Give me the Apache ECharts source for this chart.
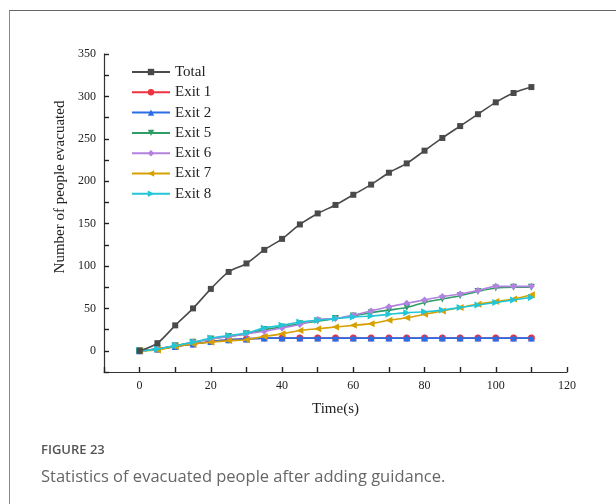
<!DOCTYPE html>
<html>
<head>
<meta charset="utf-8">
<script src="https://cdn.jsdelivr.net/npm/echarts@6/dist/echarts.min.js"></script>
<style>
  html, body { margin: 0; padding: 0; background: #fff; }
  #wrap { position: relative; width: 616px; height: 504px; }
  #frame { position: absolute; left: 9px; top: 10px; right: 0; bottom: 0;
           border-top: 1.5px solid #666; border-left: 1.5px solid #888; }
  #chart { position: absolute; left: 0; top: 0; width: 616px; height: 504px; }
</style>
</head>
<body>
<div id="wrap">
  <div id="frame"></div>
  <div id="chart"></div>
</div>
<script>
// time (s)
const times = [0, 5, 10, 15, 20, 25, 30, 35, 40, 45, 50, 55, 60, 65, 70, 75, 80, 85, 90, 95, 100, 105, 110]

// evacuated people per series
const total = [0, 9, 30, 50, 73, 93, 103, 119, 132, 149, 162, 172, 184, 196, 210, 221, 236, 251, 265, 279, 293, 304, 311]
const exit1 = [0, 2, 5, 8, 11, 13, 14, 15, 15, 15, 15, 15, 15, 15, 15, 15, 15, 15, 15, 15, 15, 15, 15]
const exit2 = [0, 2, 5, 8, 11, 13, 14, 15, 15, 15, 15, 15, 15, 15, 15, 15, 15, 15, 15, 15, 15, 15, 15]
const exit5 = [0, 2, 6, 10, 14, 17, 20, 25, 28, 32, 35, 38, 41, 45, 48, 51, 57, 61, 65, 70, 74, 75, 75]
const exit6 = [0, 2, 6, 10, 14, 17, 20, 23, 27, 31, 37, 38, 42, 47, 52, 56, 60, 64, 67, 71, 76, 76, 76]
const exit7 = [0, 1, 5, 8, 10, 12, 13, 17, 20, 24, 26, 28, 30, 32, 36, 39, 43, 47, 51, 55, 58, 61, 66]
const exit8 = [0, 2, 6, 10, 15, 18, 21, 27, 30, 34, 36, 38, 40, 41, 43, 45, 46, 48, 51, 54, 57, 60, 63]

// axis ranges and label steps
const xRange = [-10, 120]
const xTickStep = 10
const xLabelStep = 20
const yRange = [-25, 350]
const yTickStep = 25
const yLabelStep = 50

const pairs = arr => times.map((t, i) => [t, arr[i]])
const serif = '"Liberation Serif", "Times New Roman", serif'

const chart = echarts.init(document.getElementById('chart'))

const mkSeries = (name, data, color, symbol, rotate, z) => ({
  name,
  type: 'line',
  data: pairs(data),
  smooth: 0.3,
  symbol,
  symbolSize: symbol === 'rect' ? 6 : 7,
  symbolRotate: rotate,
  lineStyle: { width: 1.6, color },
  itemStyle: { color },
  z
})

const labelEvery = step => v => (v >= 0 && v % step === 0 ? String(v) : '')

chart.setOption({
  animation: false,
  title: [
    { text: 'FIGURE 23', left: 36, top: 439,
      textStyle: { fontFamily: '"Open Sans", sans-serif', fontSize: 13, fontWeight: 600, color: '#555' } },
    { text: 'Statistics of evacuated people after adding guidance.', left: 36, top: 464,
      textStyle: { fontFamily: '"Open Sans", sans-serif', fontSize: 16.5, fontWeight: 'normal', color: '#666' } }
  ],
  legend: {
    orient: 'vertical',
    left: 126,
    top: 59,
    itemWidth: 38,
    itemHeight: 8,
    itemGap: 4.3,
    textStyle: { fontFamily: serif, fontSize: 15, color: '#222', lineHeight: 16 },
    data: ['Total', 'Exit 1', 'Exit 2', 'Exit 5', 'Exit 6', 'Exit 7', 'Exit 8']
  },
  grid: { left: 104, right: 49, top: 54, bottom: 132 },
  xAxis: {
    type: 'value', min: xRange[0], max: xRange[1], interval: xTickStep,
    name: 'Time(s)', nameLocation: 'middle', nameGap: 30,
    nameTextStyle: { fontFamily: serif, fontSize: 15, color: '#222' },
    axisLine: { show: true, onZero: false, lineStyle: { color: '#333', width: 1.2 } },
    splitLine: { show: false },
    axisTick: { show: true, inside: true, length: 5, lineStyle: { color: '#222', width: 1.4 } },
    axisLabel: { formatter: labelEvery(xLabelStep), fontFamily: serif, fontSize: 12, color: '#222', margin: 8,
                 showMinLabel: true, showMaxLabel: true }
  },
  yAxis: {
    type: 'value', min: yRange[0], max: yRange[1], interval: yTickStep,
    name: 'Number of people evacuated', nameLocation: 'middle', nameGap: 29,
    nameTextStyle: { fontFamily: serif, fontSize: 15, color: '#222', padding: [0, 0, 0, 52] },
    axisLine: { show: true, onZero: false, lineStyle: { color: '#333', width: 1.2 } },
    splitLine: { show: false },
    axisTick: { show: true, inside: true, length: 5, lineStyle: { color: '#222', width: 1.4 } },
    axisLabel: { formatter: labelEvery(yLabelStep), fontFamily: serif, fontSize: 12, color: '#222', margin: 8,
                 showMinLabel: true, showMaxLabel: true }
  },
  series: [
    mkSeries('Total', total, '#4a4a4a', 'rect', 0, 9),
    mkSeries('Exit 1', exit1, '#ee3340', 'circle', 0, 2),
    mkSeries('Exit 2', exit2, '#2a6ee6', 'triangle', 0, 3),
    mkSeries('Exit 5', exit5, '#2e9e66', 'triangle', 180, 4),
    mkSeries('Exit 6', exit6, '#b382e0', 'diamond', 0, 5),
    mkSeries('Exit 7', exit7, '#d6a100', 'triangle', 90, 6),
    mkSeries('Exit 8', exit8, '#22c6d6', 'triangle', -90, 7)
  ]
})
</script>
</body>
</html>
